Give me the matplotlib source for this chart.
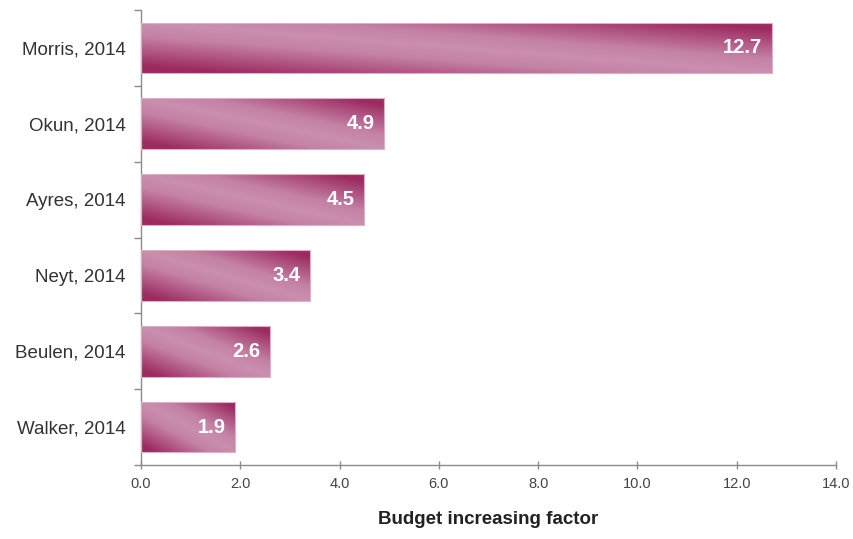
import numpy as np
import matplotlib.pyplot as plt
from matplotlib.colors import LinearSegmentedColormap
from matplotlib.patches import Rectangle

studies = ["Morris, 2014", "Okun, 2014", "Ayres, 2014",
           "Neyt, 2014", "Beulen, 2014", "Walker, 2014"]
factors = [12.7, 4.9, 4.5, 3.4, 2.6, 1.9]
xticks = [0, 2, 4, 6, 8, 10, 12, 14]

plt.rcParams['font.family'] = ['Liberation Sans', 'DejaVu Sans']

fig = plt.figure(figsize=(8.54, 5.39), dpi=100)
ax = fig.add_axes([0.165, 0.1373, 0.814, 0.844])

# diagonal light/dark shading used inside every bar
cmap = LinearSegmentedColormap.from_list(
    "plum", [(0, "#ca8fae"), (0.35, "#c482a4"), (0.7, "#b05482"), (1, "#9c2a5f")])
u, v = np.meshgrid(np.linspace(0, 1, 300), np.linspace(0, 1, 60))
shade = np.clip(np.abs(u + v - 1) * 1.15, 0, 1) ** 0.9

h = 0.67
ypos = np.arange(len(studies))[::-1]
for y, val in zip(ypos, factors):
    im = ax.imshow(shade, cmap=cmap, vmin=0, vmax=1, origin="lower",
                   extent=(0, val, y - h / 2, y + h / 2), aspect="auto",
                   interpolation="bilinear", zorder=2)
    rect = Rectangle((0, y - h / 2), val, h, facecolor="none",
                     edgecolor="#dcb0c6", linewidth=0.8, zorder=3)
    ax.add_patch(rect)
    im.set_clip_path(rect)
    ax.annotate(f"{val:.1f}", (val, y), xytext=(-7, 0), textcoords="offset points",
                ha="right", va="center", color="white", fontsize=14.5,
                fontweight="bold", zorder=4,
                family=["Liberation Sans Narrow", "Liberation Sans"])

ax.set_xlim(0, 14)
ax.set_ylim(-0.5, len(studies) - 0.5)
ax.set_xticks(xticks)
ax.set_xticklabels([f"{t:.1f}" for t in xticks], color="#444444", fontsize=10.5)
ax.set_yticks(ypos)
ax.set_yticklabels(studies, fontsize=13.5, color="#333333")
ax.set_yticks(np.arange(-0.5, len(studies)), minor=True)
ax.tick_params(axis="y", which="major", length=0, pad=11)
ax.tick_params(axis="y", which="minor", length=5, color="#8c8c8c", width=1)
ax.tick_params(axis="x", direction="inout", length=6, color="#8c8c8c", width=1, pad=6)

for s in ["top", "right"]:
    ax.spines[s].set_visible(False)
for s in ["left", "bottom"]:
    ax.spines[s].set_color("#8c8c8c")
    ax.spines[s].set_linewidth(1)

ax.set_xlabel("Budget increasing factor", fontsize=13.5, fontweight="bold",
              color="#222222", labelpad=14)

fig.savefig("out.png", dpi=100)
